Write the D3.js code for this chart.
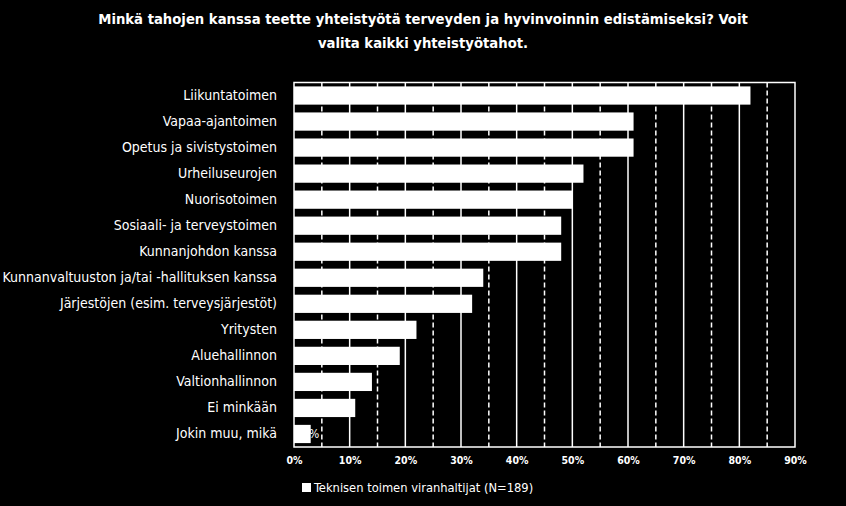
<!DOCTYPE html>
<html><head><meta charset="utf-8">
<script src="https://cdn.jsdelivr.net/npm/d3@7"></script>
<style>
html,body{margin:0;padding:0;background:#000;}
svg{display:block;}
</style></head>
<body>
<script>
const titleLines = ["Minkä tahojen kanssa teette yhteistyötä terveyden ja hyvinvoinnin edistämiseksi? Voit", "valita kaikki yhteistyötahot."];
const categories = ["Liikuntatoimen","Vapaa-ajantoimen","Opetus ja sivistystoimen","Urheiluseurojen","Nuorisotoimen","Sosiaali- ja terveystoimen","Kunnanjohdon kanssa","Kunnanvaltuuston ja/tai -hallituksen kanssa","Järjestöjen (esim. terveysjärjestöt)","Yritysten","Aluehallinnon","Valtionhallinnon","Ei minkään","Jokin muu, mikä"];
const values = [0.82,0.61,0.61,0.52,0.50,0.48,0.48,0.34,0.32,0.22,0.19,0.14,0.11,0.03];
const seriesName = "Teknisen toimen viranhaltijat (N=189)";
const tickValues = [0,0.1,0.2,0.3,0.4,0.5,0.6,0.7,0.8,0.9];
const minorTicks = [0.05,0.15,0.25,0.35,0.45,0.55,0.65,0.75,0.85];
const labelled = ["Jokin muu, mikä"];

const W=846,H=506;
const svg=d3.select("body").append("svg").attr("width",W).attr("height",H);
svg.append("rect").attr("width",W).attr("height",H).attr("fill","#000");

const x=d3.scaleLinear().domain([0,0.9]).range([294,795]);
const y=d3.scaleBand().domain(categories).range([82.5,447]).paddingInner(0.3).paddingOuter(0.15);

const FONT='"DejaVu Sans Condensed","DejaVu Sans",sans-serif';

// title
svg.append("g").selectAll("text").data(titleLines).join("text")
  .attr("x",423).attr("y",(d,i)=>24+i*24)
  .attr("text-anchor","middle").attr("fill","#fff")
  .attr("font-family",FONT).attr("font-weight","bold").attr("font-size",14.7)
  .text(d=>d);

// grid
const grid=svg.append("g");
grid.selectAll("line.minor").data(minorTicks).join("line")
  .attr("x1",d=>x(d)).attr("x2",d=>x(d)).attr("y1",y.range()[0]).attr("y2",y.range()[1])
  .attr("stroke","#fff").attr("stroke-width",1.5).attr("stroke-dasharray","5,3");
grid.selectAll("line.major").data(tickValues.slice(1,-1)).join("line")
  .attr("x1",d=>x(d)).attr("x2",d=>x(d)).attr("y1",y.range()[0]).attr("y2",y.range()[1])
  .attr("stroke","#fff").attr("stroke-width",1.5);

// bars
svg.append("g").selectAll("rect").data(categories).join("rect")
  .attr("x",x(0)).attr("y",d=>y(d))
  .attr("width",(d,i)=>x(values[i])-x(0)).attr("height",y.bandwidth())
  .attr("fill","#fff");

// frame
svg.append("rect").attr("x",x(0)).attr("y",y.range()[0])
  .attr("width",x(0.9)-x(0)).attr("height",y.range()[1]-y.range()[0])
  .attr("fill","none").attr("stroke","#fff").attr("stroke-width",1.5);

// y axis labels
const yAxis=svg.append("g").attr("transform",`translate(${x(0)},0)`)
  .call(d3.axisLeft(y).tickSize(0).tickPadding(17));
yAxis.select(".domain").remove();
yAxis.selectAll("text").attr("fill","#fff").attr("font-family",FONT).attr("font-size",14);

// x axis labels
const xAxis=svg.append("g").attr("transform",`translate(0,${y.range()[1]})`)
  .call(d3.axisBottom(x).tickValues(tickValues).tickFormat(d3.format(".0%")).tickSize(0).tickPadding(10));
xAxis.select(".domain").remove();
xAxis.selectAll("text").attr("fill","#fff").attr("font-family",FONT).attr("font-weight","bold").attr("font-size",10.5);

// data label
svg.append("g").selectAll("text").data(labelled).join("text")
  .attr("x",d=>x(values[categories.indexOf(d)])).attr("y",d=>y(d)+y.bandwidth()/2)
  .attr("dy","0.35em").attr("text-anchor","middle").attr("fill","#fff")
  .attr("font-family",FONT).attr("font-size",12)
  .text(d=>d3.format(".0%")(values[categories.indexOf(d)]));

// legend
const lg=svg.append("g").attr("transform","translate(302,483)");
lg.append("rect").attr("width",9).attr("height",9).attr("fill","#fff");
lg.append("text").attr("x",12).attr("y",9).attr("fill","#fff")
  .attr("font-family",FONT).attr("font-size",12.8).text(seriesName);
</script>
</body></html>
